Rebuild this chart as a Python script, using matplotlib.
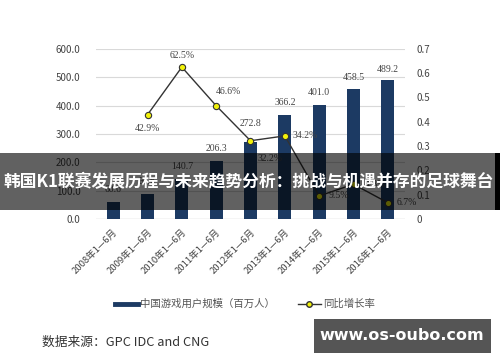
import matplotlib
matplotlib.use("Agg")
import matplotlib.pyplot as plt
from matplotlib.lines import Line2D
from matplotlib.patches import Rectangle

plt.rcParams['font.family'] = ['Noto Sans CJK SC', 'DejaVu Sans']

# data
years = ['2008年1—6月', '2009年1—6月', '2010年1—6月', '2011年1—6月', '2012年1—6月',
         '2013年1—6月', '2014年1—6月', '2015年1—6月', '2016年1—6月']
users = [60.6, 86.6, 140.7, 206.3, 272.8, 366.2, 401.0, 458.5, 489.2]
growth = [None, 0.429, 0.625, 0.466, 0.322, 0.342, 0.095, 0.143, 0.067]
growth_labels = ['', '42.9%', '62.5%', '46.6%', '32.2%', '34.2%', '9.5%', '14.3%', '6.7%']
# label offsets (points) for the labels
growth_offsets = [(0, 0), (0, -10), (0, 8), (9, 10), (14, -13), (15, 0), (14, 0), (14, 0), (14, 0)]
bar_offsets = [9, 9, 9, 9, 13, 9, 9, 8, 8]

bar_color = '#1c3a63'
txt_color = '#444444'

fig = plt.figure(figsize=(5, 3.62), dpi=100)
ax = fig.add_axes([0.192, 0.395, 0.618, 0.47])
ax2 = ax.twinx()

x = list(range(len(years)))
ax.bar(x, users, width=0.38, color=bar_color, zorder=2)
for xi, v, off in zip(x, users, bar_offsets):
    ax.annotate(f'{v:.1f}', (xi, v), xytext=(0, off), textcoords='offset points',
                ha='center', va='center', fontsize=7, color=txt_color,
                family=['Liberation Serif', 'DejaVu Serif'])

ax.set_xlim(-0.5, len(years) - 0.5)
ax.set_ylim(0, 600)
ax.set_yticks(range(0, 601, 100))
ax.set_yticklabels([f'{v:.1f}' for v in range(0, 601, 100)])
ax.grid(axis='y', color='#d9d9d9', lw=0.8, zorder=0)
ax.set_axisbelow(True)
for s in ax.spines.values():
    s.set_visible(False)
for s in ax2.spines.values():
    s.set_visible(False)
ax.axhline(0, color='#d9d9d9', lw=1, zorder=1)
ax.tick_params(axis='y', length=0, pad=11, labelsize=7, labelcolor=txt_color)
ax.set_xticks(x)
ax.set_xticklabels(years, rotation=45, ha='right', va='top', rotation_mode='anchor',
                   fontsize=6.8, color=txt_color)
ax.tick_params(axis='x', length=0, pad=6)

gx = [xi for xi, g in zip(x, growth) if g is not None]
gy = [g for g in growth if g is not None]
ax2.plot(gx, gy, color='#333333', lw=1, marker='o', ms=4.5,
         markerfacecolor='#f2f20a', markeredgecolor='#333333', markeredgewidth=0.8, zorder=3)
for xi, g, lab, off in zip(x, growth, growth_labels, growth_offsets):
    if g is None:
        continue
    ax2.annotate(lab, (xi, g), xytext=off, textcoords='offset points',
                 ha='center', va='center', fontsize=7, color=txt_color,
                 family=['Liberation Serif', 'DejaVu Serif'])
ax2.set_ylim(0, 0.7)
ax2.set_yticks([i / 10 for i in range(8)])
ax2.set_yticklabels(['0'] + [f'{i / 10:.1f}' for i in range(1, 8)])
ax2.tick_params(axis='y', length=0, pad=8, labelsize=7, labelcolor=txt_color)

# legend
handles = [Line2D([0], [0], color=bar_color, lw=3.5),
           Line2D([0], [0], color='#333333', lw=1, marker='o', ms=4,
                  markerfacecolor='#f2f20a', markeredgecolor='#333333')]
fig.legend(handles, ['中国游戏用户规模（百万人）', '同比增长率'], loc='center',
           bbox_to_anchor=(0.49, 0.16), ncol=2, frameon=False, fontsize=7.5,
           handlelength=2.2, handletextpad=0.2, columnspacing=2.2, labelcolor='#555555')

# source note
fig.text(0.084, 0.055, '数据来源：GPC IDC and CNG', fontsize=9.2, color='#333333', va='center')

# watermark box
fig.add_artist(Rectangle((314 / 500, 1 - 353 / 362), 177 / 500, 34 / 362,
                         transform=fig.transFigure, facecolor='#555555', edgecolor='none', zorder=10))
fig.text(402 / 500, 1 - 336 / 362, 'www.os-oubo.com', color='white', fontsize=11.5,
         fontweight='bold', ha='center', va='center', zorder=11, family='DejaVu Sans')

# title banner across the middle
fig.add_artist(Rectangle((0, 1 - 210 / 362), 1, 57 / 362, transform=fig.transFigure,
                         facecolor='black', alpha=0.62, edgecolor='none', zorder=10))
fig.add_artist(Rectangle((495 / 500, 1 - 210 / 362), 5 / 500, 57 / 362, transform=fig.transFigure,
                         facecolor='black', edgecolor='none', zorder=10))
fig.text(0.497, 1 - 182 / 362, '韩国K1联赛发展历程与未来趋势分析：挑战与机遇并存的足球舞台',
         color='white', fontsize=12.1, fontweight='bold', ha='center', va='center', zorder=11)

fig.savefig('out.png', dpi=100)
